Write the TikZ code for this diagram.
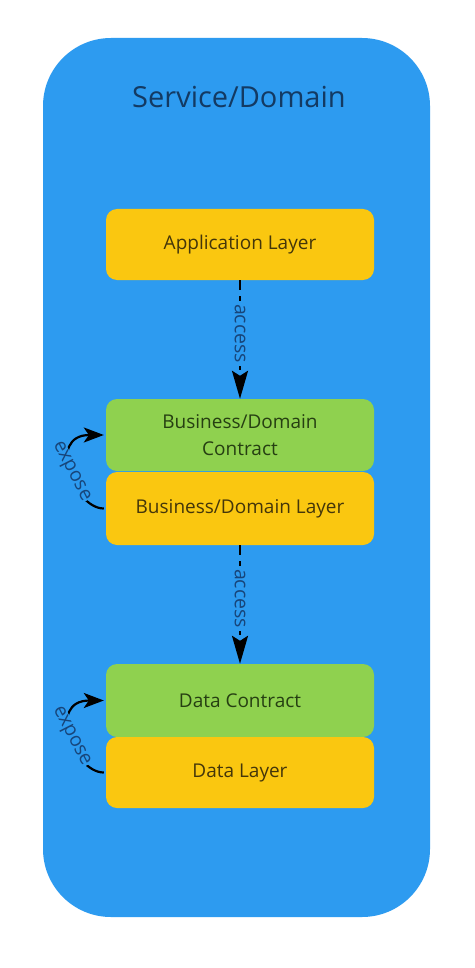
\documentclass[tikz,border=0pt]{standalone}
\usepackage{fontspec}
\setmainfont{Open Sans}
\usetikzlibrary{arrows.meta}
\definecolor{serviceblue}{HTML}{2D9BF0}
\definecolor{layeryellow}{HTML}{FAC710}
\definecolor{contractgreen}{HTML}{8FD14F}
\definecolor{titleblue}{HTML}{133A63}
\definecolor{labelblue}{HTML}{17457A}
\definecolor{layertext}{HTML}{44360A}
\definecolor{contracttext}{HTML}{263F12}
\tikzset{
	layerbox/.style={fill=layeryellow, rounded corners=11pt, minimum width=268pt, align=center,
		text=layertext, font=\fontsize{19}{27}\selectfont},
	contractbox/.style={layerbox, fill=contractgreen, text=contracttext},
	accessline/.style={line width=2.2pt, dash pattern=on 10pt off 6pt,
		-{Stealth[length=28pt, width=16pt, inset=5pt]}},
	exposeline/.style={line width=2.2pt, -{Stealth[length=20pt, width=15pt, inset=5pt]}},
	arrowlabel/.style={fill=serviceblue, text=labelblue, inner sep=3pt,
		font=\fontsize{19.5}{22}\selectfont}
}
\begin{document}
\begin{tikzpicture}[x=1pt, y=-1pt]
			%%%%% START %%%%%
			
			\useasboundingbox[fill=white] (0, 0) rectangle (474, 968);
			
			\fill[serviceblue, rounded corners=68pt] (43, 38) rectangle (430, 917);
			\node[text=titleblue, font=\fontsize{29}{34}\selectfont] (title) at (239, 97) {Service/Domain};
			
			\node[layerbox, minimum height=71pt] (app) at (240, 244.5) {Application Layer};
			
			\node[contractbox, minimum height=72pt] (bizcontract) at (240, 435) {Business/Domain\\Contract};
			\node[layerbox, minimum height=73pt] (bizlayer) at (240, 508.5) {Business/Domain Layer};
			
			\node[contractbox, minimum height=73pt] (datacontract) at (240, 700.5) {Data Contract};
			\node[layerbox, minimum height=71pt] (datalayer) at (240, 772.5) {Data Layer};
			
			\draw[accessline] (app.south) -- node[arrowlabel, rotate=-90, pos=0.45] (access1) {access} (bizcontract.north);
			\draw[accessline] (bizlayer.south) -- node[arrowlabel, rotate=-90, pos=0.45] (access2) {access} (datacontract.north);
			
			\draw[exposeline] ([xshift=-2pt]bizlayer.west) .. controls +(-30, 0) and +(-58, 0) .. node[arrowlabel, rotate=-63, pos=0.5, inner sep=0.5pt] (expose1) {expose} ([xshift=-2pt]bizcontract.west);
			\draw[exposeline] ([xshift=-2pt]datalayer.west) .. controls +(-30, 0) and +(-58, 0) .. node[arrowlabel, rotate=-63, pos=0.5, inner sep=0.5pt] (expose2) {expose} ([xshift=-2pt]datacontract.west);
			
			%%%%% END %%%%%
\end{tikzpicture}
\end{document}
